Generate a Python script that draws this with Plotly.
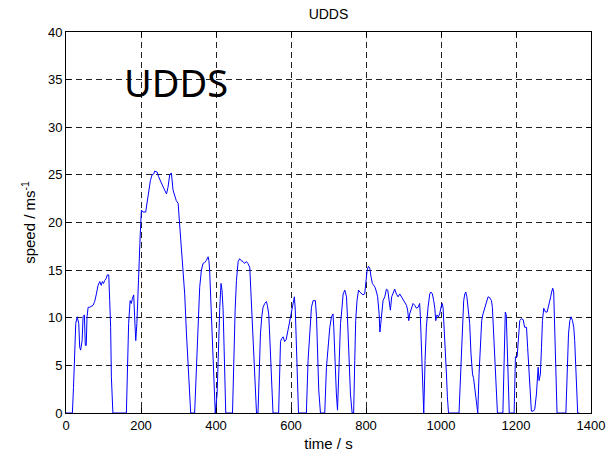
import plotly.graph_objects as go

time_s = [0, 17, 20, 23, 26, 30, 34, 36.5, 39, 43, 45.5, 49, 51.5, 54, 56, 59, 63, 72, 76.5, 81,
          85.5, 90, 94, 97, 100, 103, 107, 110, 114, 116.5, 119, 121, 123, 125, 161, 164, 167, 171,
          174, 177, 180.5, 183, 186, 189, 192, 195, 198, 201, 205.5, 212.5, 216, 220.5, 225, 229.5,
          234, 236.5, 243, 247, 251, 255, 259, 263, 268, 272, 276.5, 281, 285.5, 290, 294, 299, 303,
          307.5, 312, 316.5, 321, 325.5, 330, 332.5, 343, 347.5, 352, 356.5, 361, 365.5, 370, 374,
          379, 381, 383, 386, 389.5, 392, 395, 398, 403, 406.5, 410, 413.5, 416, 419, 421.5, 424,
          426, 444, 447, 451, 454.5, 459, 463, 467, 472, 476, 481, 485, 490, 492.5, 495, 499, 503,
          508, 512, 515, 518.5, 522, 525.5, 530, 534.5, 537, 540.5, 543, 546, 549, 552, 567, 570,
          572, 575, 579, 583, 587, 592, 596.5, 601, 605.5, 609, 611.5, 614.5, 617, 620, 641, 645.5,
          650, 654.5, 659, 665, 668, 670.5, 674, 678.5, 690, 694.5, 699, 703.5, 708, 712, 714,
          716.5, 721, 724, 728, 732, 735.5, 739, 743.5, 748, 750.5, 754, 758.5, 763, 767, 770,
          772.5, 776, 780, 783.5, 788, 792, 796.5, 799, 803, 806.5, 810, 813.5, 817, 820.5, 824,
          828, 831, 835, 837, 839.5, 842, 845.5, 850, 854.5, 858, 861.5, 865, 868.5, 872, 876.5,
          881, 885.5, 890, 894.5, 899, 903, 908, 911, 914, 916.5, 921, 925.5, 930, 934.5, 939,
          943, 945, 948, 950.5, 954, 957.5, 961, 965.5, 970, 973, 977, 980.5, 983.5, 986, 989.5,
          993, 996.5, 1000, 1003, 1005.5, 1008, 1011, 1014.5, 1017, 1020, 1048, 1052, 1054.5,
          1057, 1060.5, 1063.5, 1066, 1069, 1072, 1076.5, 1080, 1084, 1087, 1091, 1094.5, 1098,
          1101.5, 1105, 1108.5, 1112, 1116.5, 1121, 1125.5, 1130, 1134.5, 1137, 1140.5, 1144,
          1148, 1150.5, 1165, 1167, 1169, 1171.5, 1174, 1176, 1179, 1182, 1195, 1198.5, 1203,
          1206.5, 1210, 1214.5, 1219, 1223, 1228, 1231, 1235, 1238.5, 1241, 1246, 1250, 1254.5,
          1259, 1261.5, 1265, 1268, 1270.5, 1274, 1278.5, 1283, 1286.5, 1290, 1292.5, 1295, 1298,
          1300.5, 1303, 1306, 1309.5, 1333, 1336, 1340, 1343.5, 1347, 1350.5, 1354, 1356.5, 1359,
          1362, 1364.5, 1369]

speed_ms = [0, 0, 2.7, 6.6, 9.4, 10.1, 9.4, 6.9, 6.6, 7.6, 10.1, 10.3, 7.1, 7.1, 10.1, 11.1, 11.1,
            11.3, 11.7, 12.5, 13.4, 13.8, 13.4, 13.8, 13.6, 13.9, 14.1, 14.5, 14.5, 11.8, 9.0, 3.8,
            2.0, 0, 0, 4.8, 9.4, 11.8, 11.5, 12.0, 12.4, 10.1, 7.6, 9.4, 13.2, 16.4, 18.8, 21.3,
            21.1, 21.1, 22.0, 23.2, 24.4, 25.0, 25.1, 25.4, 25.3, 24.8, 24.4, 24.1, 23.8, 23.4,
            23.0, 23.7, 25.0, 25.2, 23.4, 22.9, 22.3, 22.0, 19.8, 17.0, 15.2, 12.5, 8.5, 5.0, 1.5,
            0, 0, 5.0, 10.1, 13.2, 15.0, 15.7, 15.8, 16.0, 16.4, 16.0, 15.0, 11.8, 8.3, 4.8, 2.0,
            0, 2.0, 7.3, 11.1, 13.6, 12.9, 10.8, 7.3, 2.0, 0, 0, 5.5, 10.8, 13.9, 15.9, 16.2, 16.0,
            15.9, 15.7, 15.9, 15.7, 15.3, 13.2, 10.4, 6.9, 3.8, 0, 0, 3.8, 8.3, 10.1, 11.1, 11.5,
            11.7, 11.3, 10.4, 8.3, 4.8, 2.0, 0, 0, 4.8, 7.5, 7.8, 8.0, 7.5, 7.7, 8.7, 9.7, 10.4,
            11.8, 12.2, 10.8, 6.9, 2.7, 0, 0, 5.5, 8.3, 11.1, 11.8, 11.8, 10.1, 6.6, 2.4, 0, 0,
            4.8, 7.3, 9.0, 10.1, 10.4, 9.0, 5.5, 2.0, 0.3, 5.5, 9.4, 10.8, 12.5, 12.9, 12.2, 10.1,
            6.6, 2.0, 0, 0, 5.5, 9.7, 11.8, 12.9, 12.7, 12.5, 12.4, 12.5, 13.6, 15.0, 15.4, 15.2,
            14.3, 13.6, 13.4, 13.2, 12.7, 12.2, 10.4, 8.5, 9.4, 10.8, 11.8, 12.2, 13.0, 12.9, 11.8,
            10.8, 12.2, 12.5, 13.0, 12.5, 12.2, 12.5, 12.2, 11.8, 11.5, 11.3, 10.8, 9.7, 10.4, 11.1,
            11.5, 11.3, 11.0, 11.1, 11.5, 10.1, 6.9, 3.5, 0, 5.5, 9.0, 11.1, 12.5, 12.7, 12.5, 11.8,
            11.0, 9.7, 10.3, 10.1, 10.4, 11.1, 11.5, 11.1, 9.4, 6.9, 4.1, 1.7, 0, 0, 4.1, 7.6, 10.1,
            11.8, 12.5, 12.7, 12.2, 11.1, 9.4, 6.2, 4.1, 3.6, 2.4, 1.0, 0, 4.1, 7.3, 9.7, 10.4,
            11.1, 11.7, 12.2, 12.1, 11.8, 11.1, 8.0, 4.8, 1.3, 0, 0, 4.0, 8.7, 10.6, 10.3, 8.0, 3.8,
            0, 0, 5.9, 5.9, 7.6, 9.7, 9.9, 9.8, 9.0, 9.0, 6.9, 4.1, 1.3, 0.2, 0.2, 0.4, 2.0, 4.8,
            3.4, 4.1, 6.9, 9.7, 11.0, 10.6, 10.6, 11.1, 11.7, 12.2, 12.7, 13.1, 12.7, 9.0, 4.8, 0,
            0, 4.8, 8.3, 9.7, 10.1, 9.7, 9.0, 7.6, 4.8, 2.4, 0, 0]

x_ticks = [0, 200, 400, 600, 800, 1000, 1200, 1400]
y_ticks = [0, 5, 10, 15, 20, 25, 30, 35, 40]

fig = go.Figure()
fig.add_trace(go.Scatter(x=time_s, y=speed_ms, mode="lines",
                         line=dict(color="#0000ff", width=1), showlegend=False))

axis_common = dict(
    showline=True, linecolor="black", linewidth=1, mirror="ticks",
    ticks="inside", ticklen=5, tickcolor="black", tickwidth=1,
    showgrid=True, gridcolor="#222222", gridwidth=1, griddash="6px,4px",
    zeroline=False, automargin=False,
    tickfont=dict(family="Liberation Sans, Arial", size=13, color="black"),
)

fig.update_xaxes(range=[0, 1400], tickvals=x_ticks,
                 title=dict(text="time / s", font=dict(family="Liberation Sans, Arial", size=15, color="black"), standoff=6),
                 **axis_common)
fig.update_yaxes(range=[0, 40], tickvals=y_ticks,
                 title=dict(text="speed / ms<sup>-1</sup>", font=dict(family="Liberation Sans, Arial", size=15, color="black"), standoff=8),
                 **axis_common)

fig.add_annotation(x=292, y=34.7, xref="x", yref="y", text="UDDS", showarrow=False,
                   font=dict(family="Noto Sans", size=38, color="black"),
                   xanchor="center", yanchor="middle")

fig.update_layout(
    width=610, height=459,
    margin=dict(l=66, r=19, t=32, b=46),
    paper_bgcolor="white", plot_bgcolor="white",
    title=dict(text="UDDS", x=0.5385, xanchor="center", y=1 - 14 / 459, yanchor="middle",
               yref="container", font=dict(family="Liberation Sans, Arial", size=14, color="black")),
)

fig.write_html("out.html")
